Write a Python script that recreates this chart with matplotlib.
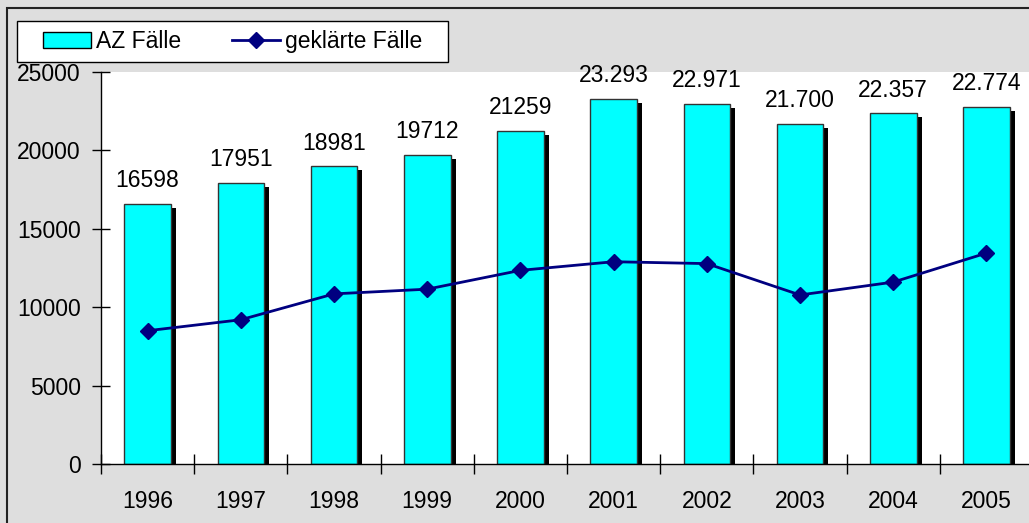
"""
AZ Fälle und geklärte Fälle 1996-2005
"""

import matplotlib.pyplot as plt
import matplotlib.patheffects as pe
from matplotlib.patches import Patch, Rectangle
from matplotlib.lines import Line2D
import numpy as np

plt.rcParams["font.family"] = ["Liberation Sans", "DejaVu Sans"]

YEARS = ["1996", "1997", "1998", "1999", "2000", "2001", "2002", "2003", "2004", "2005"]
AZ_FAELLE = [16598, 17951, 18981, 19712, 21259, 23293, 22971, 21700, 22357, 22774]
AZ_LABELS = ["16598", "17951", "18981", "19712", "21259",
             "23.293", "22.971", "21.700", "22.357", "22.774"]
GEKLAERT = [8500, 9200, 10850, 11150, 12350, 12900, 12780, 10780, 11600, 13450]

BG = "#dedede"
BAR_COLOR = "#00ffff"
LINE_COLOR = "#000080"
FS = 16.5

W, H = 1029, 523
fig = plt.figure(figsize=(W / 100, H / 100), dpi=100, facecolor=BG)
ax = fig.add_axes([101 / W, 59 / H, 932 / W, 392 / H])
ax.set_facecolor("white")

x = np.arange(len(YEARS))

# bars with a hard black drop shadow
bars = ax.bar(x, AZ_FAELLE, width=0.5, color=BAR_COLOR, edgecolor="#333333", linewidth=1, zorder=2)
for b in bars:
    b.set_path_effects([
        pe.SimplePatchShadow(offset=(3.6, -2.9), shadow_rgbFace="black", alpha=1.0),
        pe.Normal(),
    ])

# value labels above bars
for xi, val, lab in zip(x, AZ_FAELLE, AZ_LABELS):
    ax.annotate(lab, (xi, val), xytext=(0, 8.5), textcoords="offset points",
                ha="center", va="bottom", fontsize=FS)

ax.plot(x, GEKLAERT, color=LINE_COLOR, lw=2, marker="D", markersize=8, zorder=3)

ax.set_xlim(-0.5, len(YEARS) - 0.5)
ax.set_ylim(0, 25000)
ax.set_yticks(np.arange(0, 25001, 5000))

# ticks on category boundaries, labels at centers
ax.set_xticks(np.arange(-0.5, len(YEARS), 1))
ax.set_xticklabels([])
ax.set_xticks(x, minor=True)
ax.set_xticklabels(YEARS, minor=True)
ax.tick_params(axis="x", which="major", direction="inout", length=14, width=1)
ax.tick_params(axis="x", which="minor", length=0, pad=19, labelsize=FS)
ax.tick_params(axis="y", direction="inout", length=13, width=1, pad=8, labelsize=FS)

for s in ["top", "right"]:
    ax.spines[s].set_visible(False)
for s in ["left", "bottom"]:
    ax.spines[s].set_color("black")
    ax.spines[s].set_linewidth(1)

# outer border of the chart area
fig.patches.append(Rectangle((7 / W, -0.2), 1.2, 1.2 - 8 / H,
                             transform=fig.transFigure, fill=False,
                             edgecolor="#222222", linewidth=1.5))

# legend box
fig.patches.append(Rectangle((17 / W, 1 - 62 / H), 431 / W, 41 / H,
                             transform=fig.transFigure, facecolor="white",
                             edgecolor="black", linewidth=1, zorder=1))

handles = [
    Patch(facecolor=BAR_COLOR, edgecolor="black", linewidth=1),
    Line2D([], [], color=LINE_COLOR, lw=2, marker="D", markersize=8),
]
leg = fig.legend(handles, ["AZ Fälle", "geklärte Fälle"], ncol=2,
                 loc="center left", bbox_to_anchor=(43 / W, 1 - 41.5 / H),
                 borderaxespad=0, borderpad=0, fontsize=FS, frameon=False,
                 handlelength=2.1, handleheight=0.75, handletextpad=0.22,
                 columnspacing=2.2)
leg.set_zorder(2)

plt.savefig("out.png", dpi=100, facecolor=BG)
